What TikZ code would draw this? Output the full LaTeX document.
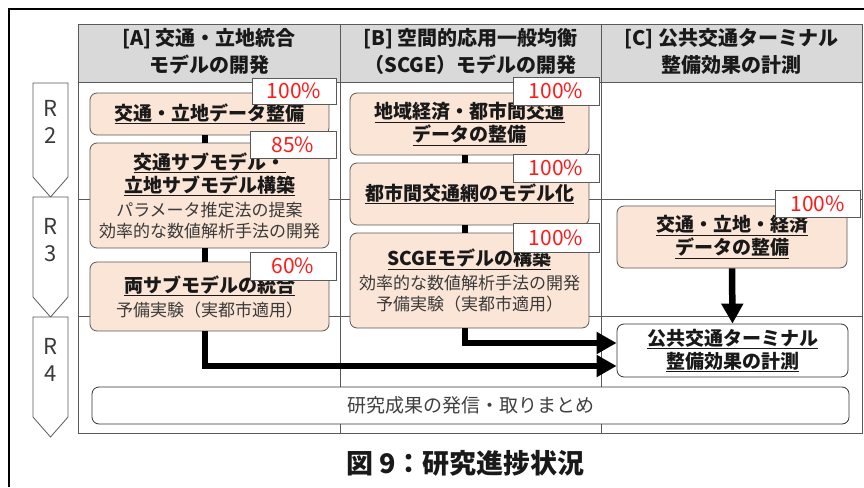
\documentclass[tikz,border=0pt]{standalone}
\usepackage{fontspec}
\setmainfont{Noto Sans CJK JP}
\usetikzlibrary{arrows.meta}
\definecolor{peach}{HTML}{FBE5D6}
\definecolor{gridc}{HTML}{595959}
\definecolor{hdrfill}{HTML}{D9D9D9}
\definecolor{pctred}{HTML}{FF1A1A}
\definecolor{txt}{HTML}{3A3A3A}
\newcommand{\tasktitle}[1]{{\fontsize{19}{24}\selectfont\bfseries\color{black!90}\underline{#1}}}
\begin{document}
\begin{tikzpicture}[x=1pt,y=-1pt,
  gridline/.style={draw=gridc, line width=0.8pt},
  hdrtext/.style={align=center, text=black!90, font=\fontsize{20}{27}\selectfont\bfseries, inner sep=0pt},
  task/.style={draw=gridc, fill=peach, rounded corners=7pt, line width=0.8pt, inner sep=0pt, align=center, text=txt, font=\fontsize{17}{21}\selectfont},
  plainbox/.style={draw=black!80, fill=white, rounded corners=7pt, line width=0.8pt, inner sep=0pt, align=center, text=txt, font=\fontsize{17}{21}\selectfont},
  pct/.style={draw=gridc, fill=white, line width=0.8pt, inner sep=0pt, text=pctred, font=\fontsize{21}{21}\selectfont, minimum width=85pt, minimum height=27pt},
  yearbox/.style={draw=gridc, fill=white, line width=0.8pt},
  yeartext/.style={align=center, text=txt, font=\fontsize{22}{27}\selectfont, inner sep=0pt},
  conn/.style={line width=6.5pt, black},
  connarrow/.style={line width=6.5pt, black, -{Triangle[length=20pt,width=21pt]}}
]
\useasboundingbox (0,0) rectangle (864,487);
% outer frame
\draw[line width=2pt, black] (9,487) -- (9,9) -- (864,9);
% header band
\fill[hdrfill] (78,24) rectangle (862,82);
% grid
\draw[gridline] (78,24) rectangle (862,433);
\draw[gridline] (78,82) -- (862,82);
\draw[gridline] (78,199) -- (862,199);
\draw[gridline] (78,316) -- (862,316);
\draw[gridline] (340,24) -- (340,433);
\draw[gridline] (601,24) -- (601,433);
% headers
\node[hdrtext] (hA) at (209,51.5) {[A] 交通・立地統合\\モデルの開発};
\node[hdrtext] (hB) at (470.5,51.5) {[B] 空間的応用一般均衡\\（SCGE）モデルの開発};
\node[hdrtext] (hC) at (731.5,51.5) {[C] 公共交通ターミナル\\整備効果の計測};
% year arrows
\draw[yearbox] (33,83) -- (68,83) -- (68,177) -- (50.5,197) -- (33,177) -- cycle;
\draw[yearbox] (33,197) -- (68,197) -- (68,297) -- (50.5,317) -- (33,297) -- cycle;
\draw[yearbox] (33,317) -- (68,317) -- (68,417) -- (50.5,437) -- (33,417) -- cycle;
\node[yeartext] (r2) at (50.5,122) {R\\2};
\node[yeartext] (r3) at (50.5,240) {R\\3};
\node[yeartext] (r4) at (50.5,360) {R\\4};
% task boxes
\node[task, minimum width=239pt, minimum height=42pt] (A1) at (209.5,114) {\tasktitle{交通・立地データ整備}};
\node[task, minimum width=239pt, minimum height=105pt] (A2) at (209.5,195.5) {\tasktitle{交通サブモデル・}\\[2pt]\tasktitle{立地サブモデル構築}\\[3pt]パラメータ推定法の提案\\効率的な数値解析手法の開発};
\node[task, minimum width=239pt, minimum height=69pt] (A3) at (209.5,296.5) {\tasktitle{両サブモデルの統合}\\[3pt]予備実験（実都市適用）};
\node[task, minimum width=239pt, minimum height=62pt] (B1) at (469.5,124) {\tasktitle{地域経済・都市間交通}\\[2pt]\tasktitle{データの整備}};
\node[task, minimum width=239pt, minimum height=62pt] (B2) at (469.5,194) {\tasktitle{都市間交通網のモデル化}};
\node[task, minimum width=239pt, minimum height=95pt] (B3) at (469.5,280.5) {\tasktitle{SCGEモデルの構築}\\[3pt]効率的な数値解析手法の開発\\予備実験（実都市適用）};
\node[task, minimum width=230pt, minimum height=62pt] (C1) at (732,237) {\tasktitle{交通・立地・経済}\\[2pt]\tasktitle{データの整備}};
\node[plainbox, minimum width=231pt, minimum height=53pt] (C2) at (732.5,350.5) {\tasktitle{公共交通ターミナル}\\[2pt]\tasktitle{整備効果の計測}};
\node[plainbox, minimum width=757pt, minimum height=37pt, font=\fontsize{19}{21}\selectfont, text=black!75] (D) at (470.5,405.5) {研究成果の発信・取りまとめ};
% connectors
\draw[conn] ([xshift=-4.5pt]A1.south) -- ([xshift=-4.5pt]A2.north);
\draw[conn] ([xshift=-4.5pt]A2.south) -- ([xshift=-4.5pt]A3.north);
\draw[conn] ([xshift=-4.5pt]B1.south) -- ([xshift=-4.5pt]B2.north);
\draw[conn] ([xshift=-4.5pt]B2.south) -- ([xshift=-4.5pt]B3.north);
\draw[connarrow] ([xshift=-4.5pt]A3.south) |- ([yshift=-15.5pt]C2.west);
\draw[connarrow] ([xshift=-4.5pt]B3.south) |- ([yshift=7.5pt]C2.west);
\draw[connarrow] (C1.south) -- (C2.north);
% percentages
\node[pct, minimum width=84pt, minimum height=26pt] (pA1) at (294,91) {100\%};
\node[pct, minimum width=86pt] (pA2) at (293,144.5) {85\%};
\node[pct, minimum width=86pt, minimum height=28pt] (pA3) at (293,266) {60\%};
\node[pct, minimum width=86pt, minimum height=28pt] (pB1) at (556,91) {100\%};
\node[pct, minimum width=86pt, minimum height=28pt] (pB2) at (556,168) {100\%};
\node[pct, minimum width=86pt, minimum height=29pt] (pB3) at (556,237.5) {100\%};
\node[pct] (pC1) at (817.5,203.5) {100\%};
% caption
\node[font=\fontsize{27}{30}\selectfont\bfseries, text=black!90, inner sep=0pt] (cap) at (465.5,463) {図 9：研究進捗状況};
\end{tikzpicture}
\end{document}
